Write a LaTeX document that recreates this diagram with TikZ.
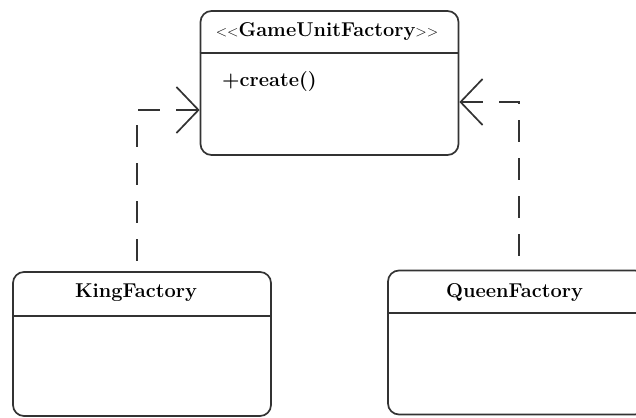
\documentclass[tikz,border=0pt]{standalone}
\usepackage{fontspec}
\usetikzlibrary{arrows.meta}
\newcommand{\lt}{\mbox{<}\kern0pt\mbox{<}}
\newcommand{\gtt}{\mbox{>}\kern0pt\mbox{>}}
\begin{document}
\begin{tikzpicture}[x=1pt,y=-1pt,
  classbox/.style={draw=black!80, line width=1.7pt, rounded corners=11pt, inner sep=0pt, minimum width=258pt, minimum height=144pt},
  sep/.style={draw=black!80, line width=1.7pt},
  txt/.style={font=\fontsize{20}{23}\selectfont\bfseries, inner sep=0pt, anchor=base},
  dep/.style={draw=black!80, line width=1.7pt, dash pattern=on 22pt off 16pt,
    {Straight Barb[length=22pt,width=46pt,line width=1.7pt]}-}
]
\clip (0,0) rectangle (636,417);
% classes
\node[classbox] (g) at (329.5,83) {};
\node[classbox] (k) at (142,344) {};
\node[classbox] (q) at (517,342.5) {};
% compartment separators
\coordinate (gs) at (0,53);
\coordinate (ks) at (0,316);
\coordinate (qs) at (0,313);
\draw[sep] (g.west |- gs) -- (g.east |- gs);
\draw[sep] (k.west |- ks) -- (k.east |- ks);
\draw[sep] (q.west |- qs) -- (q.east |- qs);
% texts
\node[txt] (gt) at (327,37) {{\mdseries\fontsize{15}{18}\selectfont\lt}GameUnitFactory{\mdseries\fontsize{15}{18}\selectfont\gtt}};
\node[txt, anchor=base west] (gop) at (222,87) {+create()};
\node[txt] (kt) at (136,297) {KingFactory};
\node[txt] (qt) at (514.5,297) {QueenFactory};
% realizations
\draw[dep] ([yshift=-27pt]g.west) -| ([xshift=-5pt]k.north);
\draw[dep] ([yshift=-19pt]g.east) -| ([xshift=2pt]q.north);
\end{tikzpicture}
\end{document}
